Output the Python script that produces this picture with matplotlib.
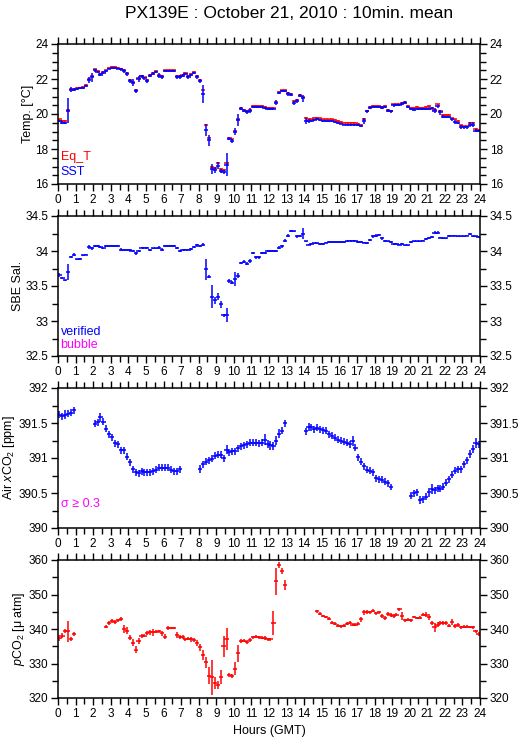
import numpy as np
import matplotlib
matplotlib.use('Agg')
import matplotlib.pyplot as plt
from matplotlib.ticker import MultipleLocator

nan = np.nan

plt.rcParams['font.family'] = ['Liberation Sans', 'DejaVu Sans']
plt.rcParams['mathtext.fontset'] = 'custom'
plt.rcParams['mathtext.rm'] = 'Liberation Sans'
plt.rcParams['mathtext.it'] = 'Liberation Sans:italic'

# 10 minute means, 6 values per hour (rows = hours 0..23)
sst = [
    19.6, 19.5, 19.5, 20.2, 21.4, 21.4,
    21.45, 21.5, 21.5, 21.6, 21.95, 22.1,
    22.5, 22.4, 22.25, 22.35, 22.45, 22.6,
    22.65, 22.65, 22.6, 22.55, 22.45, 22.3,
    21.9, 21.8, 21.3, 22.0, 22.15, 22.05,
    21.9, 22.2, 22.3, 22.4, 22.2, 22.1,
    22.45, 22.45, 22.45, 22.45, 22.1, 22.1,
    22.2, 22.3, 22.1, 22.25, 22.35, 22.1,
    21.9, 21.15, 19.1, 18.5, 16.85, 16.8,
    17.05, 16.75, 16.7, 17.1, 18.6, 18.45,
    19.0, 19.65, 20.3, 20.2, 20.1, 20.2,
    20.4, 20.4, 20.4, 20.4, 20.35, 20.3,
    20.3, 20.3, 20.65, 21.2, 21.3, 21.3,
    21.15, 21.1, 20.65, 20.75, 21.05, 20.9,
    19.6, 19.6, 19.6, 19.65, 19.7, 19.65,
    19.6, 19.6, 19.6, 19.6, 19.55, 19.5,
    19.45, 19.4, 19.4, 19.4, 19.4, 19.4,
    19.35, 19.3, 19.6, 20.15, 20.35, 20.4,
    20.4, 20.4, 20.35, 20.4, 20.2, 20.15,
    20.5, 20.5, 20.5, 20.6, 20.65, 20.4,
    20.3, 20.25, 20.3, 20.3, 20.3, 20.3,
    20.3, 20.35, 20.2, 20.45, 20.1, 19.85,
    19.85, 19.85, 19.7, 19.55, 19.5, 19.25,
    19.25, 19.25, 19.4, 19.4, 19.05, 19.05,
]
sst_sd = [
    .06, .08, .05, .7, .12, .1,
    .05, .06, .05, .08, .15, .25,
    .08, .08, .1, .08, .06, .05,
    .06, .05, .05, .08, .1, .12,
    .12, .18, .12, .15, .1, .08,
    .1, .08, .08, .06, .12, .1,
    .04, .04, .04, .04, .12, .1,
    .1, .06, .1, .06, .06, .1,
    .12, .5, .35, .3, .3, .15,
    .18, .12, .1, .65, .1, .1,
    .2, .35, .08, .1, .12, .12,
    .06, .05, .05, .05, .05, .06,
    .05, .05, .15, .08, .05, .05,
    .1, .08, .12, .1, .1, .2,
    .15, .1, .05, .06, .05, .05,
    .04, .04, .04, .04, .04, .05,
    .04, .04, .04, .04, .04, .04,
    .05, .06, .2, .1, .08, .06,
    .06, .06, .08, .06, .1, .08,
    .08, .06, .06, .06, .08, .08,
    .06, .08, .05, .05, .05, .06,
    .08, .06, .12, .08, .15, .1,
    .06, .06, .1, .12, .06, .12,
    .08, .08, .12, .12, .08, .06,
]
eq_t = [
    19.7, 19.6, 19.6, 20.25, 21.45, 21.45,
    21.5, 21.5, 21.55, 21.65, 22.0, 22.15,
    22.55, 22.45, 22.3, 22.4, 22.5, 22.65,
    22.7, 22.7, 22.65, 22.6, 22.5, 22.35,
    21.95, 21.85, 21.35, 22.05, 22.2, 22.1,
    21.95, 22.25, 22.35, 22.45, 22.25, 22.15,
    22.5, 22.5, 22.5, 22.5, 22.15, 22.15,
    22.25, 22.35, 22.15, 22.3, 22.4, 22.15,
    21.95, 21.35, 19.4, 18.65, 16.95, 16.9,
    17.2, 16.85, 16.8, 17.2, 18.65, 18.55,
    19.05, 19.7, 20.35, 20.25, 20.15, 20.25,
    20.45, 20.45, 20.45, 20.45, 20.4, 20.35,
    20.35, 20.35, 20.7, 21.25, 21.35, 21.35,
    21.2, 21.15, 20.75, 20.8, 21.1, 21.0,
    19.8, 19.7, 19.7, 19.8, 19.8, 19.75,
    19.7, 19.7, 19.7, 19.7, 19.65, 19.6,
    19.55, 19.5, 19.5, 19.5, 19.5, 19.5,
    19.45, 19.4, 19.7, 20.2, 20.4, 20.45,
    20.45, 20.45, 20.4, 20.45, 20.25, 20.2,
    20.55, 20.55, 20.55, 20.65, 20.7, 20.45,
    20.35, 20.35, 20.4, 20.35, 20.35, 20.4,
    20.45, 20.3, 20.25, 20.55, 20.2, 19.95,
    19.95, 19.95, 19.75, 19.7, 19.6, 19.35,
    19.3, 19.3, 19.5, 19.5, 19.15, 19.1,
]

sal = [
    33.66, 33.61, 33.58, 33.7, 33.92, 33.95,
    33.88, 33.89, 33.94, 33.95, 34.06, 34.04,
    34.07, 34.07, 34.06, 34.04, 34.07, 34.07,
    34.07, 34.07, 34.07, 34.02, 34.01, 34.01,
    34.01, 34.0, 33.97, 34.0, 34.05, 34.05,
    34.05, 34.02, 34.04, 34.04, 34.05, 34.02,
    34.07, 34.07, 34.07, 34.07, 34.04, 34.0,
    34.02, 34.02, 34.02, 34.03, 34.06, 34.08,
    34.07, 34.09, 33.74, 33.63, 33.35, 33.3,
    33.35, 33.24, 33.08, 33.08, 33.57, 33.55,
    33.6, 33.65, 33.83, 33.85, 33.82, 33.86,
    33.97, 33.91, 33.91, 33.97, 33.97, 34.0,
    34.0, 34.0, 34.0, 34.05, 34.07, 34.15,
    34.22, 34.28, 34.28, 34.21, 34.22, 34.25,
    34.14, 34.09, 34.1, 34.11, 34.11, 34.1,
    34.1, 34.12, 34.13, 34.13, 34.13, 34.13,
    34.13, 34.13, 34.14, 34.15, 34.15, 34.15,
    34.13, 34.13, 34.12, 34.12, 34.16, 34.21,
    34.22, 34.23, 34.18, 34.14, 34.14, 34.13,
    34.1, 34.1, 34.09, 34.1, 34.08, 34.08,
    34.13, 34.14, 34.14, 34.14, 34.15, 34.17,
    34.18, 34.2, 34.26, 34.26, 34.19, 34.18,
    34.18, 34.21, 34.22, 34.22, 34.21, 34.21,
    34.21, 34.22, 34.24, 34.21, 34.21, 34.2,
]
sal_sd = [
    .03, .015, .01, .12, .015, .015,
    .01, .015, .01, .01, .025, .02,
    .015, .01, .015, .01, .01, .01,
    .01, .01, .015, .02, .015, .015,
    .02, .015, .02, .015, .01, .01,
    .01, .015, .01, .01, .015, .02,
    .01, .01, .01, .01, .015, .015,
    .01, .01, .01, .01, .015, .02,
    .015, .02, .15, .02, .17, .05,
    .05, .05, .02, .1, .03, .015,
    .1, .03, .02, .015, .02, .03,
    .015, .02, .02, .015, .01, .01,
    .01, .01, .01, .015, .02, .015,
    .02, .015, .01, .02, .015, .08,
    .01, .01, .01, .01, .01, .01,
    .01, .01, .01, .01, .01, .01,
    .01, .01, .01, .01, .01, .01,
    .01, .01, .01, .015, .015, .02,
    .02, .015, .02, .015, .01, .01,
    .01, .015, .01, .01, .01, .01,
    .01, .01, .01, .01, .01, .015,
    .015, .015, .02, .02, .01, .01,
    .01, .015, .01, .01, .01, .01,
    .01, .01, .015, .01, .01, .01,
]

xco2 = [
    391.62, 391.6, 391.62, 391.63, 391.65, 391.68,
    nan, nan, nan, nan, nan, nan,
    391.49, 391.51, 391.58, 391.52, 391.42, 391.34,
    391.3, 391.21, 391.2, 391.11, 391.11, 391.02,
    390.94, 390.84, 390.8, 390.78, 390.81, 390.8,
    390.8, 390.8, 390.81, 390.83, 390.86, 390.86,
    390.86, 390.86, 390.83, 390.81, 390.81, 390.84,
    nan, nan, nan, nan, nan, nan,
    390.84, 390.91, 390.95, 390.97, 390.99, 391.03,
    391.05, 391.05, 391.0, 391.12, 391.08, 391.1,
    391.1, 391.14, 391.17, 391.18, 391.2, 391.22,
    391.22, 391.22, 391.21, 391.22, 391.26, 391.2,
    391.18, 391.17, 391.25, 391.35, 391.39, 391.5,
    nan, nan, nan, nan, nan, nan,
    391.38, 391.44, 391.44, 391.41, 391.43, 391.41,
    391.4, 391.39, 391.34, 391.32, 391.29, 391.26,
    391.25, 391.23, 391.22, 391.2, 391.24, 391.15,
    391.01, 390.95, 390.88, 390.83, 390.82, 390.8,
    390.71, 390.7, 390.69, 390.66, 390.64, 390.59,
    nan, nan, nan, nan, nan, nan,
    390.46, 390.5, 390.51, 390.4, 390.41, 390.45,
    390.51, 390.56, 390.54, 390.57, 390.56, 390.59,
    390.65, 390.7, 390.76, 390.82, 390.84, 390.84,
    390.91, 390.97, 391.06, 391.13, 391.22, 391.2,
]
xco2_sd = [
    .05, .05, .06, .05, .05, .05,
    nan, nan, nan, nan, nan, nan,
    .05, .05, .07, .05, .05, .05,
    .05, .05, .05, .05, .05, .05,
    .05, .05, .05, .05, .05, .05,
    .05, .05, .05, .05, .05, .05,
    .05, .05, .05, .05, .05, .05,
    nan, nan, nan, nan, nan, nan,
    .06, .05, .05, .05, .05, .05,
    .05, .05, .05, .06, .05, .05,
    .05, .05, .05, .05, .05, .05,
    .05, .05, .05, .05, .08, .06,
    .07, .06, .06, .06, .05, .05,
    nan, nan, nan, nan, nan, nan,
    .05, .06, .05, .05, .05, .05,
    .05, .05, .05, .05, .05, .05,
    .05, .05, .05, .05, .07, .05,
    .05, .05, .05, .05, .05, .05,
    .05, .05, .05, .05, .05, .04,
    nan, nan, nan, nan, nan, nan,
    .05, .05, .05, .06, .05, .05,
    .06, .07, .05, .05, .05, .05,
    .05, .05, .05, .05, .05, .05,
    .05, .05, .06, .06, .07, .05,
]

pco2 = [
    337.4, 338.1, 339.3, 339.3, 337.2, 338.6,
    nan, nan, nan, nan, nan, nan,
    nan, nan, nan, nan, 340.7, 341.8,
    342.3, 342.0, 342.5, 342.8, 340.0, 339.5,
    337.5, 336.0, 334.0, 336.5, 338.0, 338.1,
    338.8, 339.0, 339.0, 339.2, 339.3, 338.7,
    337.8, 340.2, 340.3, 340.3, 338.3, 337.7,
    337.7, 337.0, 337.2, 337.0, 336.9, 336.0,
    334.7, 332.5, 330.3, 326.5, 326.0, 324.3,
    323.7, 326.2, 335.0, 337.0, 326.7, 326.3,
    328.5, 333.0, 336.6, 336.6, 336.2, 336.8,
    337.6, 337.8, 337.6, 337.5, 337.4, 337.0,
    337.0, 341.8, 353.8, 358.6, 356.8, 352.8,
    nan, nan, nan, nan, nan, nan,
    nan, nan, nan, nan, 345.1, 344.4,
    343.8, 343.5, 343.0, 341.8, 341.5, 341.0,
    340.8, 341.0, 341.5, 341.8, 341.2, 341.3,
    341.5, 342.8, 344.8, 345.0, 344.8, 345.3,
    344.5, 344.8, 343.8, 343.3, 344.3, 344.0,
    343.8, 344.2, 345.7, 343.8, 342.5, 342.7,
    342.5, 343.5, 343.2, 343.3, 344.2, 344.2,
    343.5, 341.8, 340.5, 341.3, 341.7, 341.7,
    341.7, 341.0, 342.0, 340.8, 341.2, 340.5,
    340.7, 340.7, 340.6, 340.5, 339.3, 338.5,
]
pco2_sd = [
    .8, .6, .6, 3.0, .6, .6,
    nan, nan, nan, nan, nan, nan,
    nan, nan, nan, nan, .5, .5,
    .5, .5, .5, .6, 1.3, 1.0,
    .8, 1.0, 1.0, .8, .6, .5,
    .5, .6, 1.0, .5, .5, .6,
    .8, .6, .4, .4, .8, .6,
    .5, .5, .5, .8, .6, .8,
    1.0, 1.5, 1.5, 2.5, 5.0, 1.8,
    1.2, 2.0, 3.0, 3.2, .6, .6,
    1.8, 2.5, .6, .5, .6, .6,
    .5, .5, .5, .5, .5, .5,
    .5, 3.5, 4.0, .8, .8, 1.5,
    nan, nan, nan, nan, nan, nan,
    nan, nan, nan, nan, .4, .4,
    .4, .4, .5, .4, .4, .4,
    .4, .4, .4, .4, .4, .4,
    .4, .8, .8, .6, .5, .4,
    .4, .5, .6, .6, .6, .5,
    .5, .5, .5, 1.2, .5, .5,
    .5, .4, .4, .4, .5, .6,
    .8, .5, 1.3, .6, .5, .5,
    .5, .5, .8, .6, .5, .5,
    .5, .4, .4, .5, .5, .5,
]

hours = np.arange(len(sst)) / 6.0 + 1.0 / 12.0
half = 0.12  # half width of the horizontal mark, hours

W, H = 529, 739
fig = plt.figure(figsize=(W / 100, H / 100), dpi=100)

# panel boxes in pixels: top, bottom
boxes = [(44, 184), (216, 356), (388, 528), (560, 698)]
left_px, right_px = 58, 480
axes = []
for top, bot in boxes:
    ax = fig.add_axes([left_px / W, 1 - bot / H, (right_px - left_px) / W, (bot - top) / H])
    axes.append(ax)


def style(ax, ylo, yhi, major, minor):
    ax.set_xlim(0, 24)
    ax.set_ylim(ylo, yhi)
    ax.xaxis.set_major_locator(MultipleLocator(1))
    ax.xaxis.set_minor_locator(MultipleLocator(0.5))
    ax.yaxis.set_major_locator(MultipleLocator(major))
    ax.yaxis.set_minor_locator(MultipleLocator(minor))
    ax.yaxis.set_major_formatter(lambda v, pos: '%g' % v)
    ax.tick_params(which='both', direction='out', top=True, right=True,
                   labelright=True, labelsize=8.5, width=1, color='black')
    ax.tick_params(which='major', length=5, pad=2)
    ax.tick_params(which='minor', length=4)
    for sp in ax.spines.values():
        sp.set_linewidth(1.1)


ekw = dict(fmt='none', capsize=0, elinewidth=1.1)

ax = axes[0]
ax.errorbar(hours, eq_t, xerr=half, yerr=0.04, ecolor='#ff0000', **ekw)
ax.errorbar(hours, sst, xerr=half, yerr=sst_sd, ecolor='#0000ff', **ekw)
style(ax, 16, 24, 2, 0.5)
ax.set_ylabel('Temp. [°C]', fontsize=9, labelpad=1)
ax.text(0.006, 0.19, 'Eq_T', color='#ff0000', fontsize=9, transform=ax.transAxes, va='center')
ax.text(0.006, 0.085, 'SST', color='#0000ff', fontsize=9, transform=ax.transAxes, va='center')

ax = axes[1]
ax.errorbar(hours, sal, xerr=half, yerr=sal_sd, ecolor='#0000ff', **ekw)
style(ax, 32.5, 34.5, 0.5, 0.25)
ax.set_ylabel('SBE Sal.', fontsize=9, labelpad=1)
ax.text(0.006, 0.17, 'verified', color='#0000ff', fontsize=9, transform=ax.transAxes, va='center')
ax.text(0.006, 0.08, 'bubble', color='#ff00ff', fontsize=9, transform=ax.transAxes, va='center')

ax = axes[2]
ax.errorbar(hours, xco2, xerr=half, yerr=xco2_sd, ecolor='#0000ff', **ekw)
style(ax, 390, 392, 0.5, 0.25)
ax.set_ylabel(r'Air $x$CO$_2$ [ppm]', fontsize=9, labelpad=1)
ax.text(0.006, 0.17, 'σ ≥ 0.3', color='#ff00ff', fontsize=9, transform=ax.transAxes, va='center')

ax = axes[3]
ax.errorbar(hours, pco2, xerr=half, yerr=pco2_sd, ecolor='#ff0000', **ekw)
style(ax, 320, 360, 10, 5)
ax.set_ylabel(r'$p$CO$_2$ [μ atm]', fontsize=9, labelpad=1)
ax.set_xlabel('Hours (GMT)', fontsize=9, labelpad=4)

fig.text(289 / W, 1 - 13 / H, 'PX139E : October 21, 2010 : 10min. mean', ha='center', va='center', fontsize=12.5)

fig.savefig('out.png', dpi=100)
